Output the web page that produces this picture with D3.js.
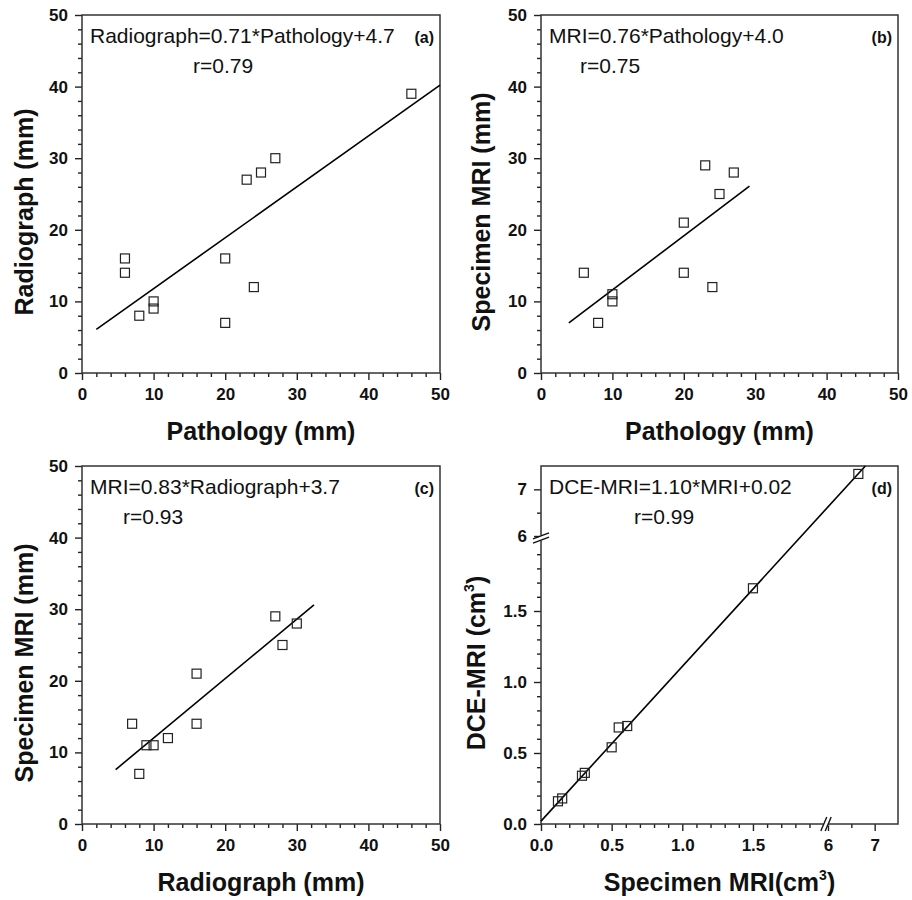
<!DOCTYPE html>
<meta charset="utf-8">
<style>
    body { margin: 0; background: #fff; }
    text { font-family: Arial, "Liberation Sans", sans-serif; fill: #111; }
    .tick text { font-size: 17px; font-weight: bold; }
    .tick line { stroke: #222; stroke-width: 1.4; }
</style>
<body>
<script src="https://d3js.org/d3.v7.min.js"></script>
<script>

// (a) Radiograph vs Pathology (mm)
var pathologyA  = [6, 6, 8, 10, 10, 20, 20, 24, 23, 25, 27, 46];
var radiographA = [16, 14, 8, 10, 9, 16, 7, 12, 27, 28, 30, 39];
var fitA_x = [2, 50];
var fitA_y = [6.1, 40.2];

// (b) Specimen MRI vs Pathology (mm)
var pathologyB = [6, 8, 10, 10, 20, 20, 24, 23, 25, 27];
var mriB       = [14, 7, 11, 10, 21, 14, 12, 29, 25, 28];
var fitB_x = [3.9, 29.2];
var fitB_y = [7.0, 26.1];

// (c) Specimen MRI vs Radiograph (mm)
var radiographC = [7, 8, 9, 10, 12, 16, 16, 27, 28, 30];
var mriC        = [14, 7, 11, 11, 12, 21, 14, 29, 25, 28];
var fitC_x = [4.7, 32.4];
var fitC_y = [7.6, 30.6];

// (d) DCE-MRI vs Specimen MRI (cm3), both axes broken between 2 and 6
var specimenD = [0.12, 0.15, 0.29, 0.31, 0.50, 0.55, 0.61, 1.50, 6.65];
var dceD      = [0.16, 0.18, 0.34, 0.36, 0.54, 0.68, 0.69, 1.66, 7.33];
var fitD_x = [0, 6.8];
var fitD_y = [0.02, 7.5];

// ticks
var ticksMM  = [0, 10, 20, 30, 40, 50];
var minorMM  = [2, 4, 6, 8, 12, 14, 16, 18, 22, 24, 26, 28, 32, 34, 36, 38, 42, 44, 46, 48];
var ticksD   = [0, 0.5, 1.0, 1.5, 6, 7];
var labelsD  = ['0.0', '0.5', '1.0', '1.5', '6', '7'];
var minorD   = [0.1, 0.2, 0.3, 0.4, 0.6, 0.7, 0.8, 0.9, 1.1, 1.2, 1.3, 1.4, 1.6, 1.7, 1.8, 1.9, 6.5];

var svg = d3.select('body').append('svg')
    .attr('width', 912)
    .attr('height', 900);

var panels = [
    {label: '(a)', left: 82, top: 15, right: 440, bottom: 373,
     xs: pathologyA, ys: radiographA, fx: fitA_x, fy: fitA_y,
     eq: 'Radiograph=0.71*Pathology+4.7', r: 'r=0.79', rDx: 111,
     xTitle: 'Pathology (mm)', yTitle: 'Radiograph (mm)', yTitleDx: -49},
    {label: '(b)', left: 541, top: 15, right: 898, bottom: 373,
     xs: pathologyB, ys: mriB, fx: fitB_x, fy: fitB_y,
     eq: 'MRI=0.76*Pathology+4.0', r: 'r=0.75', rDx: 39,
     xTitle: 'Pathology (mm)', yTitle: 'Specimen MRI (mm)', yTitleDx: -51},
    {label: '(c)', left: 82, top: 466, right: 440, bottom: 824,
     xs: radiographC, ys: mriC, fx: fitC_x, fy: fitC_y,
     eq: 'MRI=0.83*Radiograph+3.7', r: 'r=0.93', rDx: 41,
     xTitle: 'Radiograph (mm)', yTitle: 'Specimen MRI (mm)', yTitleDx: -49},
    {label: '(d)', left: 541, top: 466, right: 898, bottom: 824,
     xs: specimenD, ys: dceD, fx: fitD_x, fy: fitD_y,
     eq: 'DCE-MRI=1.10*MRI+0.02', r: 'r=0.99', rDx: 93,
     xTitle: 'Specimen MRI(cm', yTitle: 'DCE-MRI (cm', yTitleDx: -56, broken: true}
];

panels.forEach(drawPanel);

function drawPanel(p) {
    var g = svg.append('g');
    var x, y, major, minor, fmt;

    if (p.broken) {
        // piecewise scales: 0-2 then break then 6-7.5
        x = d3.scaleLinear().domain([0, 2, 6, 7.5]).range([p.left, 823.6, 828, p.right]);
        y = d3.scaleLinear().domain([0, 2, 6, 7.5]).range([p.bottom, 540, 536, p.top]);
        major = ticksD;
        minor = minorD;
        fmt = function(d, i) { return labelsD[i]; };
    } else {
        x = d3.scaleLinear().domain([0, 50]).range([p.left, p.right]);
        y = d3.scaleLinear().domain([0, 50]).range([p.bottom, p.top]);
        major = ticksMM;
        minor = minorMM;
        fmt = d3.format('d');
    }

    // minor ticks
    g.append('g')
        .attr('transform', 'translate(0,' + p.bottom + ')')
        .call(d3.axisBottom(x).tickValues(minor).tickSize(4).tickSizeOuter(0).tickFormat(''))
        .call(function(a) { a.select('.domain').remove(); });
    g.append('g')
        .attr('transform', 'translate(' + p.left + ',0)')
        .call(d3.axisLeft(y).tickValues(minor).tickSize(4).tickSizeOuter(0).tickFormat(''))
        .call(function(a) { a.select('.domain').remove(); });

    // major ticks + labels
    g.append('g')
        .attr('transform', 'translate(0,' + p.bottom + ')')
        .call(d3.axisBottom(x).tickValues(major).tickSize(7).tickPadding(8).tickSizeOuter(0).tickFormat(fmt))
        .call(function(a) { a.select('.domain').remove(); });
    g.append('g')
        .attr('transform', 'translate(' + p.left + ',0)')
        .call(d3.axisLeft(y).tickValues(major).tickSize(7).tickPadding(7).tickSizeOuter(0).tickFormat(fmt))
        .call(function(a) { a.select('.domain').remove(); });

    // frame
    g.append('rect')
        .attr('x', p.left)
        .attr('y', p.top)
        .attr('width', p.right - p.left)
        .attr('height', p.bottom - p.top)
        .attr('fill', 'none')
        .attr('stroke', '#333')
        .attr('stroke-width', 1.5);

    // axis breaks
    if (p.broken) {
        var by = 538, bx = 826;
        g.append('rect').attr('x', p.left - 2).attr('y', by - 2.5).attr('width', 4).attr('height', 5).attr('fill', '#fff');
        g.append('rect').attr('x', bx - 2.5).attr('y', p.bottom - 2).attr('width', 5).attr('height', 4).attr('fill', '#fff');
        [-2.2, 2.2].forEach(function(o) {
            g.append('line')
                .attr('x1', p.left - 8).attr('y1', by + o + 3)
                .attr('x2', p.left + 8).attr('y2', by + o - 3)
                .attr('stroke', '#111').attr('stroke-width', 1.4);
            g.append('line')
                .attr('x1', bx + o - 3).attr('y1', p.bottom + 7)
                .attr('x2', bx + o + 3).attr('y2', p.bottom - 7)
                .attr('stroke', '#111').attr('stroke-width', 1.4);
        });
    }

    // regression line
    g.append('line')
        .attr('x1', x(p.fx[0])).attr('y1', y(p.fy[0]))
        .attr('x2', x(p.fx[1])).attr('y2', y(p.fy[1]))
        .attr('stroke', '#000')
        .attr('stroke-width', 1.6);

    // data squares
    var s = 9;
    g.selectAll('rect.pt')
        .data(p.xs.map(function(v, i) { return [v, p.ys[i]]; }))
        .enter().append('rect')
        .attr('class', 'pt')
        .attr('x', function(d) { return x(d[0]) - s / 2; })
        .attr('y', function(d) { return y(d[1]) - s / 2; })
        .attr('width', s)
        .attr('height', s)
        .attr('fill', 'none')
        .attr('stroke', '#222')
        .attr('stroke-width', 1.2);

    // annotations
    g.append('text')
        .attr('x', p.left + 8).attr('y', p.top + 28)
        .style('font-size', '21px')
        .text(p.eq);
    g.append('text')
        .attr('x', p.left + p.rDx).attr('y', p.top + 58)
        .style('font-size', '21px')
        .text(p.r);
    g.append('text')
        .attr('x', p.right - 6).attr('y', p.top + 28)
        .attr('text-anchor', 'end')
        .style('font-size', '16px')
        .style('font-weight', 'bold')
        .text(p.label);

    // axis titles
    var xt = g.append('text')
        .attr('transform', 'translate(' + ((p.left + p.right) / 2) + ',' + (p.bottom + 67) + ')')
        .attr('text-anchor', 'middle')
        .style('font-size', '25px')
        .style('font-weight', 'bold');
    var yt = g.append('text')
        .attr('transform', 'translate(' + (p.left + p.yTitleDx) + ',' + (p.top + 197) + ') rotate(-90)')
        .attr('text-anchor', 'middle')
        .style('font-size', '25px')
        .style('font-weight', 'bold');
    if (p.broken) {
        [xt, yt].forEach(function(t, k) {
            t.append('tspan').text(k === 0 ? p.xTitle : p.yTitle);
            t.append('tspan').attr('dy', -11).style('font-size', '14px').text('3');
            t.append('tspan').attr('dy', 11).text(')');
        });
    } else {
        xt.text(p.xTitle);
        yt.text(p.yTitle);
    }
}

</script>
</body>
